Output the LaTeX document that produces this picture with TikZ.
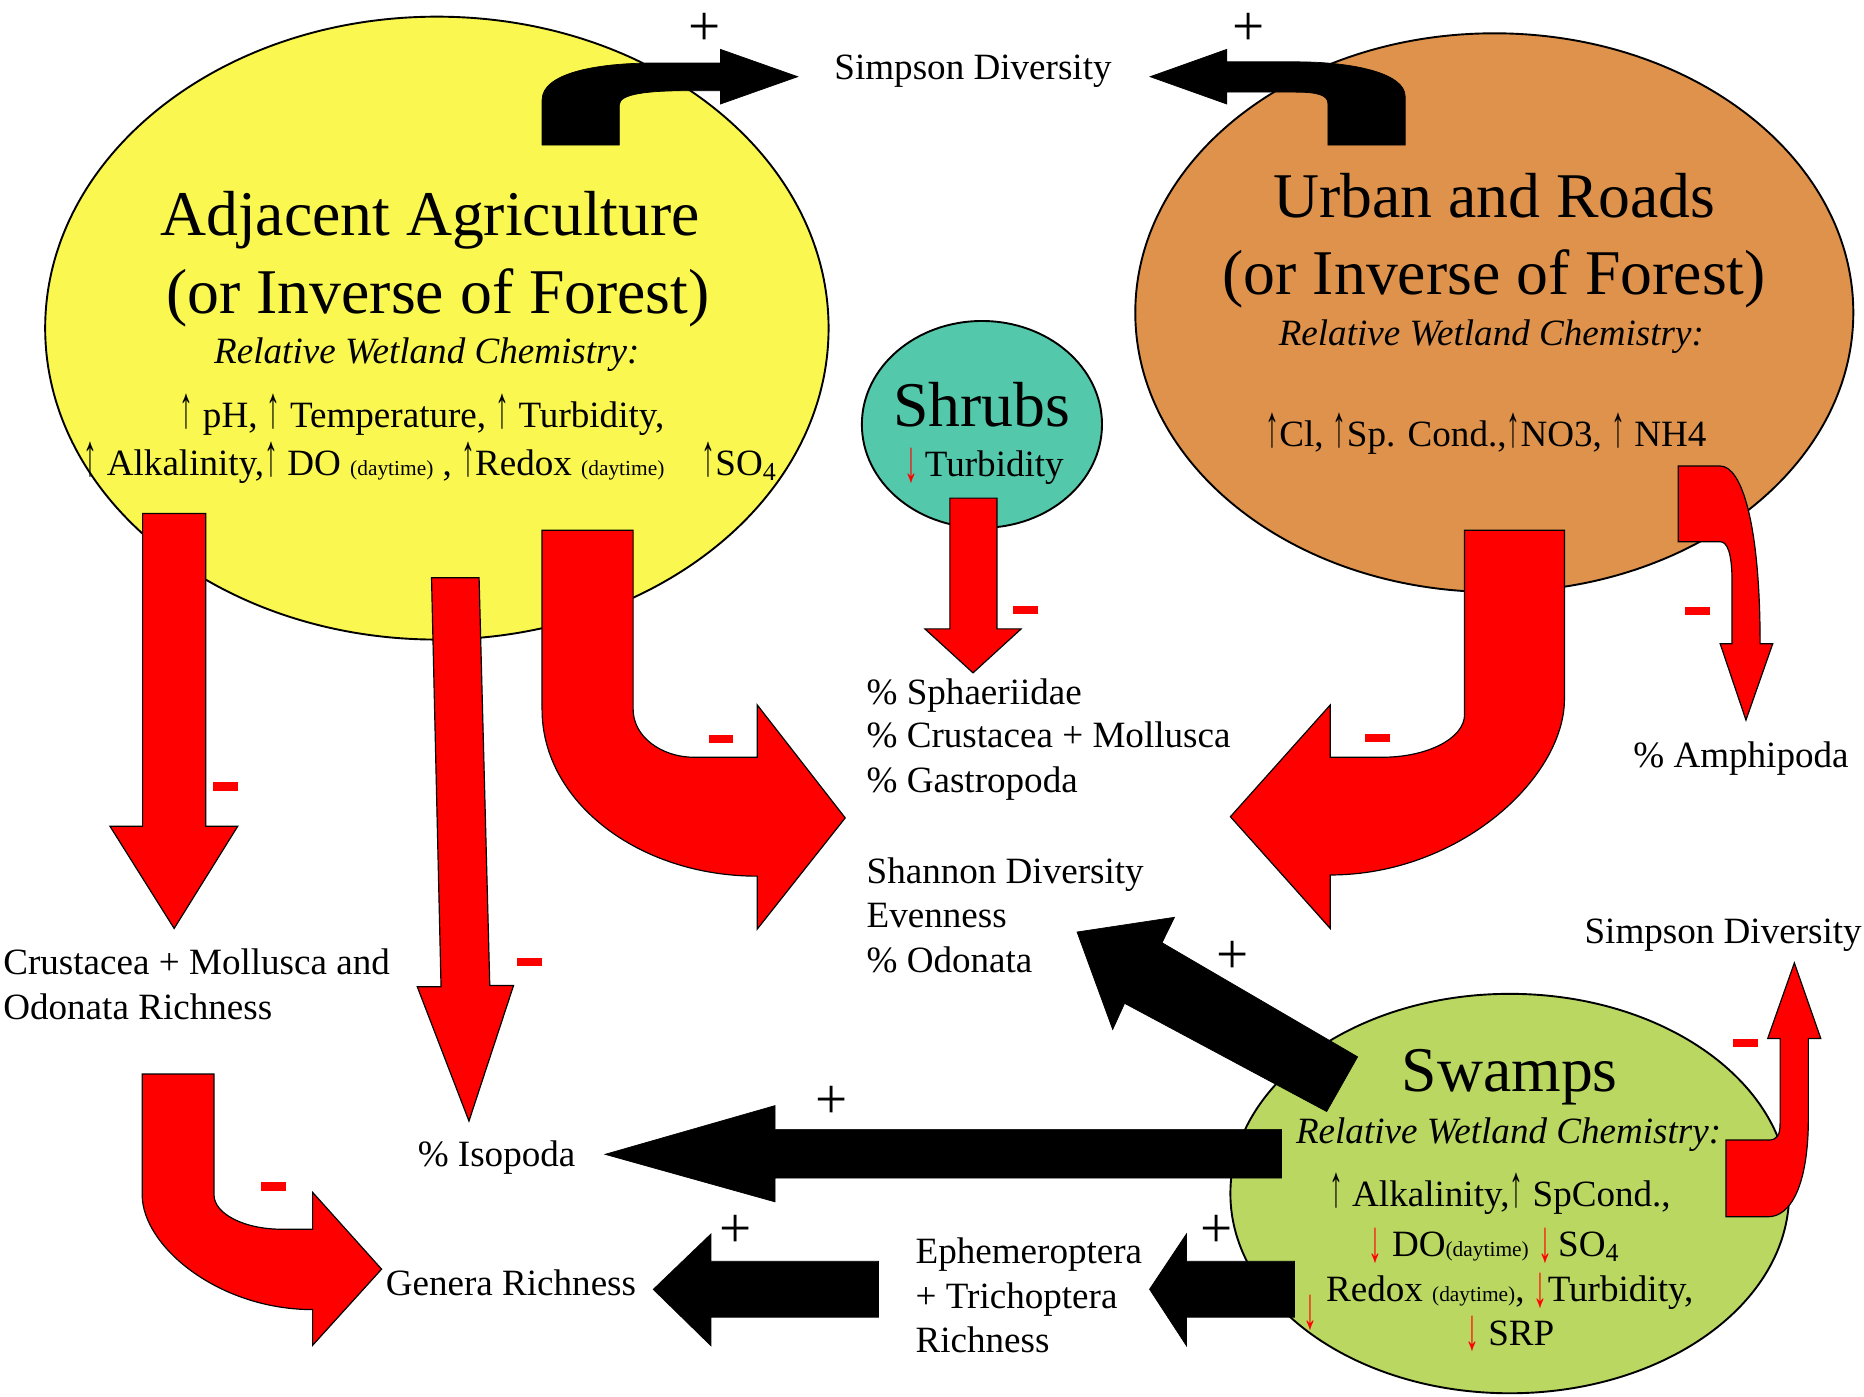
\documentclass[tikz,border=0pt]{standalone}
\usepackage{fontspec}
\usepackage{graphicx}
\setmainfont{Liberation Serif}
\usetikzlibrary{shapes.geometric}

\definecolor{agriYellow}{RGB}{250,247,80}
\definecolor{urbanOrange}{RGB}{222,146,76}
\definecolor{shrubTeal}{RGB}{84,200,170}
\definecolor{swampGreen}{RGB}{186,215,98}

\tikzset{
  blob/.style={ellipse,draw=black,line width=0.8pt,inner sep=0pt},
  txt/.style={inner sep=0pt,anchor=base,font=\fontsize{15.6pt}{18.7pt}\selectfont},
  txtl/.style={txt,anchor=base west},
  chem/.style={txt,font=\fontsize{15.6pt}{18.7pt}\selectfont\itshape},
  bigtxt/.style={inner sep=0pt,anchor=base,font=\fontsize{26.8pt}{32pt}\selectfont},
  plusSign/.style={inner sep=0pt,font=\fontsize{24pt}{28pt}\selectfont},
  minusBar/.style={fill=red,inner sep=0pt,minimum width=10.5pt,minimum height=3.5pt},
  redArrow/.style={fill=red,draw=black,line width=0.5pt,line join=miter},
  blackArrow/.style={fill=black,draw=black,line width=0.3pt},
}
\newcommand{\dayTime}{{\fontsize{9pt}{10pt}\selectfont(daytime)}}
\newcommand{\upArr}{\scalebox{0.75}[1.6]{↑}}
\newcommand{\redDown}{\textcolor{red}{\raisebox{-0.12em}{\scalebox{0.75}[1.6]{↓}}}}

\begin{document}
\begin{tikzpicture}[x=0.5pt,y=-0.5pt]
\useasboundingbox (0,0) rectangle (1568,1175);

% land use and habitat blobs
\node[blob,fill=agriYellow,minimum width=329.5pt,minimum height=262pt] (agri) at (367.5,276) {};
\node[blob,fill=urbanOrange,minimum width=302pt,minimum height=235pt] (urban) at (1257,263) {};
\node[blob,fill=shrubTeal,minimum width=101pt,minimum height=87pt] (shrub) at (826,357) {};
\node[blob,fill=swampGreen,minimum width=235pt,minimum height=168pt] (swamp) at (1270,1004) {};

% black (positive) block arrows
\path[blackArrow] (456,122) -- (456,84) .. controls (456,62) and (500,53) .. (550,53) -- (606,53) -- (606,41.5) -- (671,64.5) -- (606,87.5) -- (606,76.3) -- (578,76.3) .. controls (545,76.3) and (521,79) .. (521,88) -- (521,122) -- cycle;
\path[blackArrow] (1182,122) -- (1182,81) .. controls (1182,62) and (1140,52) .. (1090,52) -- (1032,52) -- (1032,41.5) -- (967.5,64.5) -- (1032,87.5) -- (1032,77.5) -- (1090,77.5) .. controls (1108,77.5) and (1117,80) .. (1117,87) -- (1117,122) -- cycle;
\path[blackArrow] (1142,889) -- (977.5,793) -- (988,771.6) -- (906,784) -- (936,866) -- (946,844) -- (1116,935) -- cycle;
\path[blackArrow] (1078,950) -- (652,950) -- (652,930) -- (509,971) -- (652,1011) -- (652,991) -- (1078,991) -- cycle;
\path[blackArrow] (1089,1061) -- (998,1061) -- (998,1038) -- (967,1084.5) -- (998,1132) -- (998,1108) -- (1089,1108) -- cycle;
\path[blackArrow] (739,1061) -- (598,1061) -- (598,1038) -- (549.5,1084.6) -- (598,1132) -- (598,1108) -- (739,1108) -- cycle;

% red (negative) block arrows
\path[redArrow] (120,432) -- (173,432) -- (173,695) -- (200,695) -- (146.5,781) -- (92.5,695) -- (120,695) -- cycle;
\path[redArrow] (363,486) -- (403,486) -- (412,829) -- (432,829) -- (394.5,943) -- (351,830) -- (371,830) -- cycle;
\path[redArrow] (456,446) -- (532.6,446) -- (532.6,597) .. controls (532.6,619) and (555.6,637) .. (584,637) -- (637,637) -- (637,593) -- (711,688) -- (637,781.5) -- (637,737) .. controls (537,737) and (456,674.3) .. (456,597) -- cycle;
\path[redArrow] (799,419) -- (838.6,419) -- (838.6,529) -- (859,529) -- (818.5,566) -- (778,529) -- (799,529) -- cycle;
\path[redArrow] (1316,446) -- (1232,446) -- (1232,601) .. controls (1232,621) and (1200.9,637) .. (1162.6,637) -- (1119,637) -- (1119,593) -- (1035,687) -- (1119,781) -- (1119,736) .. controls (1227.7,736) and (1316,654.3) .. (1316,588) -- cycle;
\path[redArrow] (1411.8,392) -- (1447,392) .. controls (1465,392) and (1480.6,440) .. (1480.6,541.5) -- (1491.2,541.5) -- (1468.7,605.7) -- (1447,541.5) -- (1457,541.5) -- (1457,490) .. controls (1457,465) and (1453,455.7) .. (1447,455.7) -- (1411.8,455.7) -- cycle;
\path[redArrow] (119.6,903.5) -- (180,903.5) -- (180,1005) .. controls (180,1021) and (205.4,1034) .. (236.6,1034) -- (263,1034) -- (263,1003) -- (321,1067.6) -- (263,1131.6) -- (263,1101.6) .. controls (183.8,1101.6) and (119.6,1048.3) .. (119.6,1005) -- cycle;
\path[redArrow] (1451.9,959) -- (1487.5,959) .. controls (1495,959) and (1497.4,955) .. (1497.4,945) -- (1497.4,873.5) -- (1487,873.5) -- (1509.4,810) -- (1531.6,873.5) -- (1521.2,873.5) -- (1521.2,940) .. controls (1521.2,1000) and (1505,1023.5) .. (1487.5,1023.5) -- (1451.9,1023.5) -- cycle;

% signs
\node[plusSign] (pAgri)  at (592.5,24.5) {+};
\node[plusSign] (pUrban) at (1050,24.6) {+};
\node[plusSign] (pShan)  at (1036.6,805.6) {+};
\node[plusSign] (pIso)   at (699.6,927.6) {+};
\node[plusSign] (pGen)   at (618.6,1035.7) {+};
\node[plusSign] (pEph)   at (1023,1035.6) {+};
\node[minusBar] (mCrus)  at (189.9,661.5) {};
\node[minusBar] (mIso)   at (445.8,809) {};
\node[minusBar] (mAgri)  at (606.5,621.5) {};
\node[minusBar] (mShrub) at (862.7,513) {};
\node[minusBar] (mUrban) at (1159,621) {};
\node[minusBar] (mAmph)  at (1427.9,513.8) {};
\node[minusBar] (mGen)   at (230,998) {};
\node[minusBar] (mSimp)  at (1468,877.2) {};

% blob texts
\node[bigtxt] (agriT1) at (361.7,197.7) {Adjacent Agriculture};
\node[bigtxt] (agriT2) at (368.5,263.6) {(or Inverse of Forest)};
\node[chem]   (agriT3) at (359,305.6) {Relative Wetland Chemistry:};
\node[txt]    (agriT4) at (355,360) {\upArr\ pH, \upArr\ Temperature, \upArr\ Turbidity,};
\node[txt]    (agriT5) at (362,399.6) {\upArr\ Alkalinity,\upArr\ DO \dayTime\ , \upArr Redox \dayTime\hspace{1em}\upArr SO\textsubscript{4}};

\node[bigtxt] (urbanT1) at (1257,183) {Urban and Roads};
\node[bigtxt] (urbanT2) at (1257,247.8) {(or Inverse of Forest)};
\node[chem]   (urbanT3) at (1254.5,291) {Relative Wetland Chemistry:};
\node[txt]    (urbanT4) at (1250,375.8) {\upArr Cl, \upArr Sp. Cond.,\upArr NO3, \upArr\ NH4};

\node[bigtxt] (shrubT1) at (826,359) {Shrubs};
\node[txt]    (shrubT2) at (828,401) {\redDown\,Turbidity};

\node[bigtxt] (swampT1) at (1270,918) {Swamps};
\node[chem]   (swampT2) at (1269,962) {Relative Wetland Chemistry:};
\node[txt]    (swampT3) at (1261.7,1015) {\upArr\ Alkalinity,\upArr\ SpCond.,};
\node[txt]    (swampT4) at (1257,1057) {\redDown\ DO\dayTime\ \redDown\,SO\textsubscript{4}};
\node[txt]    (swampT5) at (1270,1095) {Redox \dayTime, \redDown Turbidity,};
\node[txt]    (swampT6) at (1102,1114) {\redDown};
\node[txt]    (swampT7) at (1270,1131.4) {\redDown\ SRP};

% response texts
\node[txt]  (simpTop)  at (818.5,66.5) {Simpson Diversity};
\node[txtl] (sphaer)   at (728.6,592.4) {\% Sphaeriidae};
\node[txtl] (crusMoll) at (728.6,629) {\% Crustacea + Mollusca};
\node[txtl] (gastro)   at (728.6,666.5) {\% Gastropoda};
\node[txtl] (shannon)  at (728.6,742.8) {Shannon Diversity};
\node[txtl] (even)     at (728.6,780) {Evenness};
\node[txtl] (odon)     at (728.6,817.7) {\% Odonata};
\node[txt]  (amphi)    at (1464.5,646) {\% Amphipoda};
\node[txt]  (simpRight) at (1449.5,793.6) {Simpson Diversity};
\node[txtl] (crusRich1) at (2.4,820) {Crustacea + Mollusca and};
\node[txtl] (crusRich2) at (2.4,857.5) {Odonata Richness};
\node[txt]  (isopoda)  at (417.7,981.3) {\% Isopoda};
\node[txt]  (genera)   at (429.8,1089.4) {Genera Richness};
\node[txtl] (ephem1)   at (769.8,1063) {Ephemeroptera};
\node[txtl] (ephem2)   at (769.8,1100.9) {+ Trichoptera};
\node[txtl] (ephem3)   at (769.8,1138) {Richness};
\end{tikzpicture}
\end{document}
